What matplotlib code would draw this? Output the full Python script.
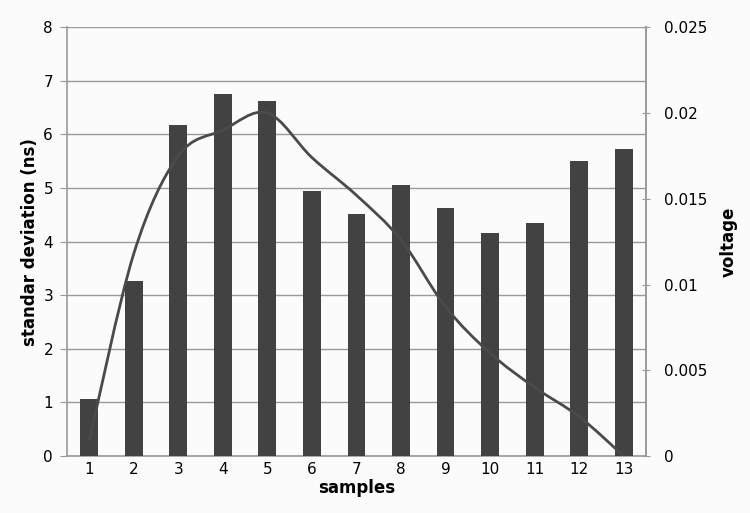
import matplotlib.pyplot as plt
import numpy as np
from matplotlib.path import Path
from matplotlib.patches import PathPatch

# values
samples = list(range(1, 14))
std_dev_ns = [1.06, 3.26, 6.17, 6.75, 6.62, 4.94, 4.52, 5.06, 4.62, 4.16, 4.35, 5.50, 5.72]
voltage = [0.0009, 0.0118, 0.0175, 0.0190, 0.0200, 0.0174, 0.0152,
           0.0126, 0.0087, 0.0060, 0.0040, 0.0023, 0.0000]
left_ticks = list(range(0, 9))
right_ticks = [0, 0.005, 0.01, 0.015, 0.02, 0.025]
right_tick_labels = ['0', '0.005', '0.01', '0.015', '0.02', '0.025']


def smooth_path(xs, ys, tension=1 / 6):
    """Excel-style smoothed line: cubic Bezier segments through the points."""
    pts = np.column_stack([xs, ys]).astype(float)
    verts = [pts[0]]
    codes = [Path.MOVETO]
    n = len(pts)
    for i in range(n - 1):
        p0 = pts[i - 1] if i > 0 else pts[i]
        p1, p2 = pts[i], pts[i + 1]
        p3 = pts[i + 2] if i + 2 < n else pts[i + 1]
        c1 = p1 + (p2 - p0) * tension
        c2 = p2 - (p3 - p1) * tension
        verts += [c1, c2, p2]
        codes += [Path.CURVE4] * 3
    return Path(verts, codes)


plt.rcParams['font.family'] = ['DejaVu Sans']
fig = plt.figure(figsize=(7.5, 5.13), dpi=100)
fig.patch.set_facecolor('#fbfbfb')
ax = fig.add_axes([0.0893, 0.111, 0.772, 0.836])
ax.set_facecolor('#fbfbfb')

grid_c = '#9a9a9a'
ax.bar(samples, std_dev_ns, width=0.4, color='#424242', zorder=3)
ax.set_xlim(0.5, 13.5)
ax.set_ylim(0, 8)
ax.set_yticks(left_ticks)
ax.yaxis.grid(True, color=grid_c, linewidth=1)
ax.set_axisbelow(True)
ax.set_xticks(samples)
ax.tick_params(axis='x', length=0, labelsize=11, pad=4)
ax.tick_params(axis='y', length=5, direction='out', color=grid_c, labelsize=11, pad=5)
ax.spines['top'].set_visible(False)
for side in ['left', 'bottom', 'right']:
    ax.spines[side].set_color(grid_c)
    ax.spines[side].set_linewidth(1.2)
ax.set_xlabel('samples', fontsize=12, fontweight='bold', labelpad=2)
ax.set_ylabel('standar deviation (ns)', fontsize=12, fontweight='bold', labelpad=3)

ax2 = ax.twinx()
ax2.set_ylim(0, 0.025)
ax2.set_yticks(right_ticks)
ax2.set_yticklabels(right_tick_labels)
ax2.tick_params(axis='y', length=6, direction='inout', color=grid_c, labelsize=11, pad=10)
for side in ['top', 'left', 'bottom']:
    ax2.spines[side].set_visible(False)
ax2.spines['right'].set_color(grid_c)
ax2.spines['right'].set_linewidth(1.2)
ax2.set_ylabel('voltage', fontsize=12, fontweight='bold', labelpad=9)

curve = smooth_path(samples, voltage)
ax2.add_patch(PathPatch(curve, facecolor='none', edgecolor='#4a4a4a', linewidth=2, zorder=4))

fig.savefig('out.png', dpi=100, facecolor=fig.get_facecolor())
